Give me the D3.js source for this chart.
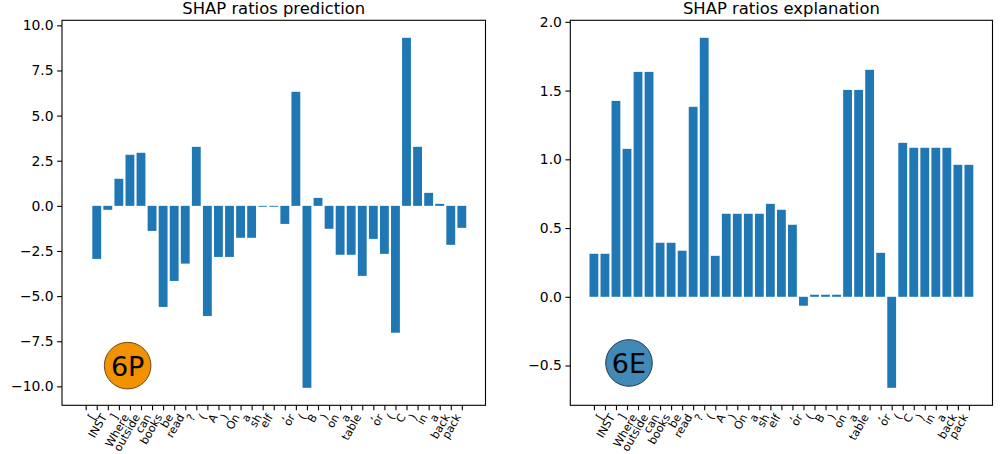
<!DOCTYPE html>
<html>
<head>
<meta charset="utf-8">
<script src="https://cdn.jsdelivr.net/npm/d3@7"></script>
<style>
    body { margin: 0; background: #fff; }
    svg { display: block; font-family: "DejaVu Sans", sans-serif; }
</style>
</head>
<body>
<script>
// tokens on the x axis (first one is the empty start token)
var tokens = ["", "[", "INST", "]", "Where", "outside", "can", "books", "be", "read", "?",
    "(", "A", ")", "On", "a", "sh", "elf", ",", "or", "(", "B", ")", "on", "a", "table",
    ",", "or", "(", "C", ")", "in", "a", "back", "pack"];

var predictionValues = [0, -2.94, -0.22, 1.5, 2.83, 2.94, -1.39, -5.6, -4.16, -3.2, 3.27,
    -6.1, -2.83, -2.83, -1.77, -1.77, -0.05, -0.05, -1.0, 6.32, -10.08, 0.44, -1.27,
    -2.71, -2.71, -3.88, -1.83, -2.66, -7.03, 9.31, 3.27, 0.72, 0.11, -2.16, -1.22];

var explanationValues = [0.313, 0.313, 1.425, 1.076, 1.636, 1.636, 0.393, 0.393, 0.335,
    1.382, 1.884, 0.298, 0.604, 0.604, 0.604, 0.604, 0.676, 0.633, 0.524, -0.065, 0.015,
    0.015, 0.015, 1.505, 1.505, 1.651, 0.32, -0.662, 1.12, 1.084, 1.084, 1.084, 1.084,
    0.96, 0.96];

var predictionTicks = [-10, -7.5, -5, -2.5, 0, 2.5, 5, 7.5, 10];
var explanationTicks = [-0.5, 0, 0.5, 1, 1.5, 2];

var width = 1002, height = 454;
var barColor = "#1f77b4";

var svg = d3.select("body").append("svg")
    .attr("width", width)
    .attr("height", height);

drawPanel({
    title: "SHAP ratios prediction",
    values: predictionValues,
    ticks: predictionTicks,
    left: 62, right: 485.5, top: 20.3, bottom: 405.3,
    badge: "6P", badgeFill: "#f39200", badgeStroke: "#6b4a1c",
    badgeX: 0.155, badgeY: 0.103
});

drawPanel({
    title: "SHAP ratios explanation",
    values: explanationValues,
    ticks: explanationTicks,
    left: 570.3, right: 992.5, top: 20.3, bottom: 405.3,
    badge: "6E", badgeFill: "#418ab7", badgeStroke: "#22384a",
    badgeX: 0.139, badgeY: 0.11
});

function drawPanel(p) {
    var n = p.values.length;
    var w = p.right - p.left,
        h = p.bottom - p.top;

    // matplotlib style 5% margins around the bars
    var xPad = (n - 1 + 0.8) * 0.05;
    var x = d3.scaleLinear()
        .domain([-0.4 - xPad, n - 1 + 0.4 + xPad])
        .range([0, w]);

    var yMin = Math.min(0, d3.min(p.values)),
        yMax = Math.max(0, d3.max(p.values)),
        yPad = (yMax - yMin) * 0.05;
    var y = d3.scaleLinear()
        .domain([yMin - yPad, yMax + yPad])
        .range([h, 0]);

    var g = svg.append("g")
        .attr("transform", "translate(" + p.left + "," + p.top + ")");

    g.selectAll(".bar")
        .data(p.values)
        .enter().append("rect")
        .attr("class", "bar")
        .attr("x", function(d, i) { return x(i - 0.4); })
        .attr("width", x(0.4) - x(-0.4))
        .attr("y", function(d) { return y(Math.max(0, d)); })
        .attr("height", function(d) { return Math.abs(y(d) - y(0)); })
        .style("fill", barColor);

    // y axis
    var yAxis = g.append("g")
        .call(d3.axisLeft(y)
            .tickValues(p.ticks)
            .tickFormat(d3.format(".1f"))
            .tickSize(4.9)
            .tickPadding(3.5));
    yAxis.select(".domain").remove();
    yAxis.selectAll("line").attr("stroke", "#000").attr("stroke-width", 1.1);
    yAxis.selectAll("text")
        .attr("fill", "#000")
        .style("font-size", "13.9px")
        .style("font-family", "DejaVu Sans");

    // x axis with rotated token labels
    var xAxis = g.append("g")
        .attr("transform", "translate(0," + h + ")")
        .call(d3.axisBottom(x)
            .tickValues(d3.range(n))
            .tickFormat(function(i) { return tokens[i]; })
            .tickSize(4.9));
    xAxis.select(".domain").remove();
    xAxis.selectAll("line").attr("stroke", "#000").attr("stroke-width", 1.1);
    xAxis.selectAll("text")
        .attr("fill", "#000")
        .attr("text-anchor", "end")
        .attr("dy", null)
        .attr("y", null)
        .attr("transform", "translate(-1,11.5) rotate(-60)")
        .style("font-size", "11.1px")
        .style("font-family", "DejaVu Sans");

    // frame
    g.append("rect")
        .attr("width", w)
        .attr("height", h)
        .attr("fill", "none")
        .attr("stroke", "#000")
        .attr("stroke-width", 1.1);

    g.append("text")
        .attr("x", w / 2)
        .attr("y", -6.8)
        .attr("text-anchor", "middle")
        .style("font-size", "16.4px")
        .text(p.title);

    // badge circle
    var bx = p.badgeX * w,
        by = h - p.badgeY * h;
    g.append("circle")
        .attr("cx", bx)
        .attr("cy", by)
        .attr("r", 23.3)
        .attr("fill", p.badgeFill)
        .attr("stroke", p.badgeStroke)
        .attr("stroke-width", 1);
    g.append("text")
        .attr("x", bx)
        .attr("y", by + 10)
        .attr("text-anchor", "middle")
        .style("font-size", "27px")
        .text(p.badge);
}
</script>
</body>
</html>
